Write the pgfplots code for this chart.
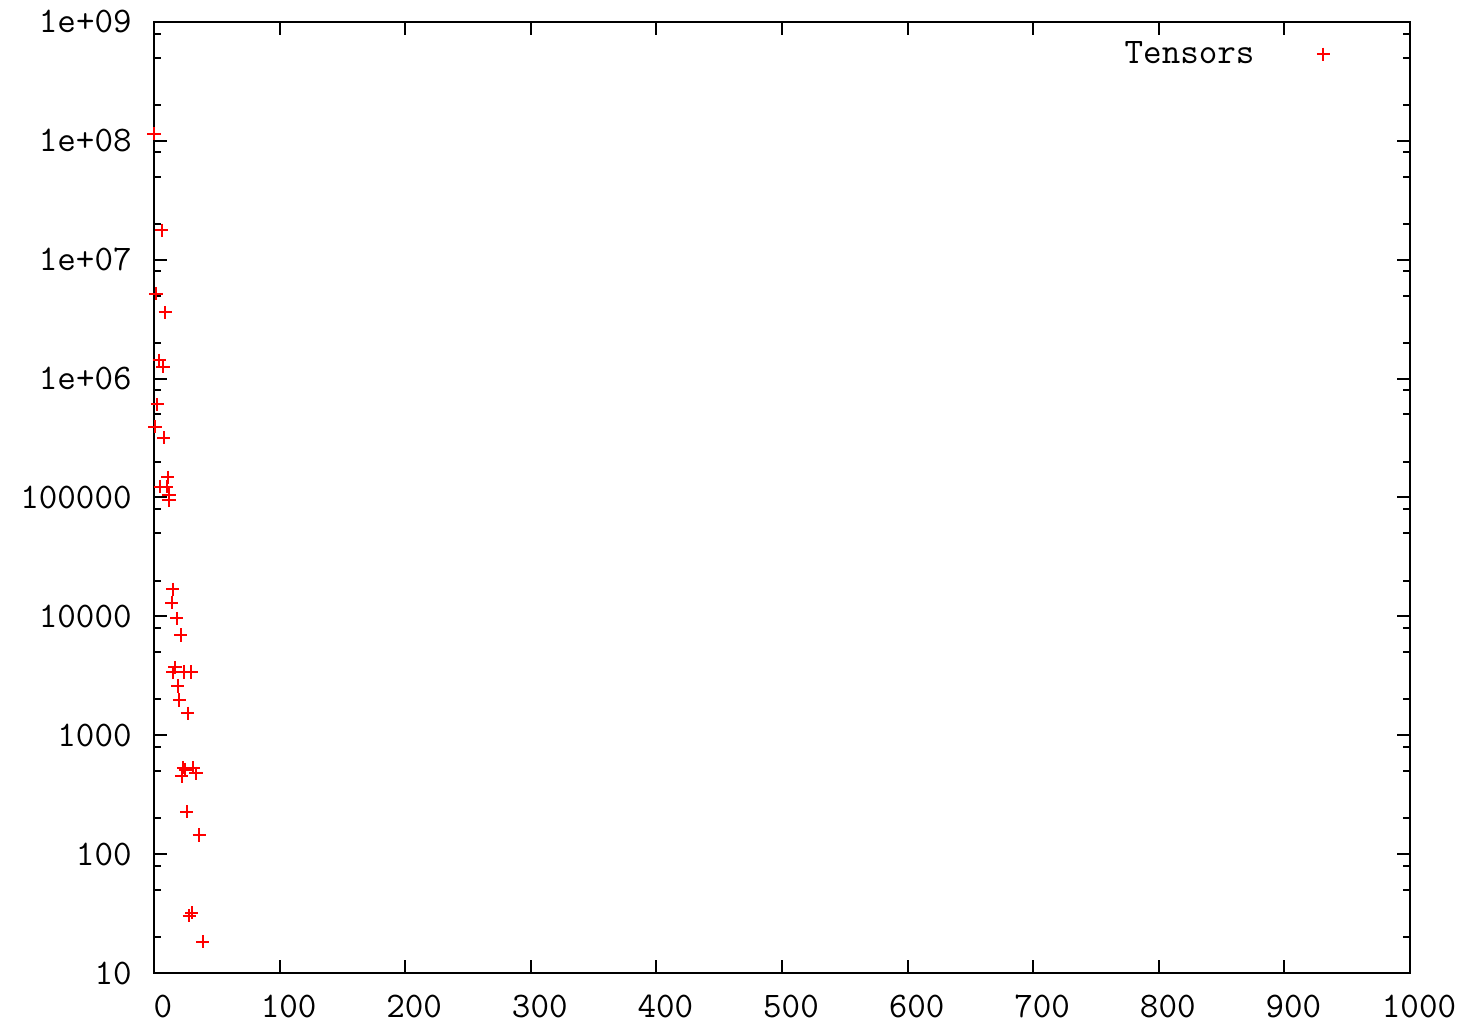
\documentclass[border=0pt]{standalone}
\usepackage{pgfplots}
\pgfplotsset{compat=1.18}
\begin{document}
\begin{tikzpicture}
\begin{axis}[
  scale only axis, width=628pt, height=475.5pt,
  xmin=0, xmax=1000, ymode=log, ymin=10, ymax=1e9,
  xtick={0,100,200,300,400,500,600,700,800,900,1000},
  xticklabels={\texttt{0},\texttt{100},\texttt{200},\texttt{300},\texttt{400},\texttt{500},\texttt{600},\texttt{700},\texttt{800},\texttt{900},\texttt{1000}},
  ytick={10,100,1000,10000,100000,1000000,10000000,100000000,1000000000},
  yticklabels={\texttt{10},\texttt{100},\texttt{1000},\texttt{10000},\texttt{100000},\texttt{1e+06},\texttt{1e+07},\texttt{1e+08},\texttt{1e+09}},
  minor ytick={20,50,80,200,500,800,2000,5000,8000,20000,50000,80000,200000,500000,800000,2000000,5000000,8000000,20000000,50000000,80000000,200000000,500000000,800000000},
  tick align=inside, major tick length=6.5pt, minor tick length=3.5pt,
  axis line style={line width=1pt},
  every tick/.style={black, line width=1pt},
  /pgf/number format/assume math mode=true,
  tick label style={font=\ttfamily\fontsize{18}{21}\selectfont, inner sep=0pt},
  xticklabel style={anchor=base, yshift=-22pt, xshift=4.5pt},
  yticklabel style={anchor=base east, yshift=-5.5pt, xshift=-11pt},
  legend plot pos=right,
  legend image code/.code={\pgfpathrectangle{\pgfpoint{0pt}{-3pt}}{\pgfpoint{36pt}{6pt}}\pgfusepath{use as bounding box}\draw[#1] plot coordinates {(34.5pt,0pt)};},
  legend style={draw=none, fill=none, inner sep=0pt, outer sep=0pt, column sep=0pt,
    nodes={inner sep=0pt}, font=\ttfamily\fontsize{18}{21}\selectfont,
    at={(0.9335,0.966)}, anchor=east},
]
\addplot[only marks, mark=+, mark size=3.3pt, red, line width=1pt] coordinates {
(0,1.15e8) (6.1,1.77e7) (1.6,5.2e6) (9.0,3.6e6) (4.2,1.43e6) (7.2,1.26e6)
(2.6,6.07e5) (0.8,3.93e5) (7.7,3.18e5) (10.9,1.48e5) (5.0,1.23e5) (10.1,1.23e5)
(11.9,1.05e5) (11.9,9.5e4) (14.9,1.69e4) (14.1,1.30e4) (18.0,9600) (21.2,6970)
(16.7,3720) (14.9,3380) (24.2,3400) (29.5,3400) (18.8,2600) (20.2,1980) (26.8,1530)
(23.4,533) (25.0,515) (22.0,454) (31.3,533) (33.4,479) (26.0,227) (36.1,145)
(30.0,32.1) (28.1,30.3) (38.8,18.3)
};
\addlegendentry{Tensors}
\end{axis}
\path ([shift={(-77pt,-25.5pt)}]current axis.south west) rectangle ([shift={(26.5pt,11pt)}]current axis.north east);
\end{tikzpicture}
\end{document}
